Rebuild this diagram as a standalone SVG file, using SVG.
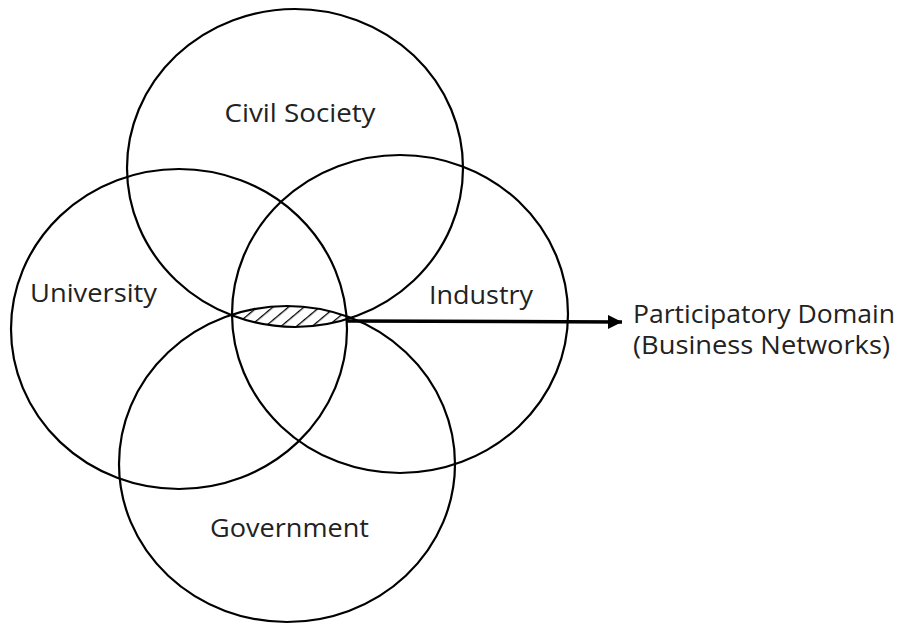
<svg xmlns="http://www.w3.org/2000/svg" width="907" height="624" viewBox="0 0 907 624">
  <style>
    .ring { fill: none; stroke: #000; stroke-width: 2.2; }
    .lbl { font-family: "Open Sans", "Liberation Sans", sans-serif; font-size: 25px; fill: #222; }
    .conn { stroke: #000; stroke-width: 3.5; fill: none; }
  </style>
  <defs>
    <pattern id="hatch" patternUnits="userSpaceOnUse" width="10" height="10" patternTransform="rotate(50)">
      <line x1="0" y1="0" x2="0" y2="10" stroke="#000" stroke-width="2.6"/>
    </pattern>
    <clipPath id="clipCivil">
      <ellipse cx="295" cy="168" rx="168" ry="159"/>
    </clipPath>
    <marker id="arrow" markerWidth="14" markerHeight="14" refX="14" refY="7" orient="auto" markerUnits="userSpaceOnUse">
      <path d="M0,0 L14,7 L0,14 Z" fill="#000"/>
    </marker>
  </defs>
  <rect width="907" height="624" fill="#fff"/>

  <g id="participatory-domain-hatch" clip-path="url(#clipCivil)">
    <ellipse cx="287" cy="464" rx="168" ry="158" fill="url(#hatch)" stroke="none"/>
  </g>

  <g id="civil-society">
    <ellipse class="ring" cx="295" cy="168" rx="168" ry="159"/>
    <text class="lbl" x="300" y="122" text-anchor="middle" textLength="151" lengthAdjust="spacingAndGlyphs">Civil Society</text>
  </g>
  <g id="university">
    <ellipse class="ring" cx="179" cy="329" rx="168" ry="160"/>
    <text class="lbl" x="30" y="302" textLength="127" lengthAdjust="spacingAndGlyphs">University</text>
  </g>
  <g id="industry">
    <ellipse class="ring" cx="400" cy="314" rx="168" ry="159"/>
    <text class="lbl" x="429" y="304" textLength="104" lengthAdjust="spacingAndGlyphs">Industry</text>
  </g>
  <g id="government">
    <ellipse class="ring" cx="287" cy="464" rx="168" ry="158"/>
    <text class="lbl" x="210" y="537" textLength="159" lengthAdjust="spacingAndGlyphs">Government</text>
  </g>

  <g id="connectors">
    <line class="conn" x1="347" y1="321" x2="622" y2="322" marker-end="url(#arrow)"/>
  </g>

  <g id="participatory-domain-label">
    <text class="lbl" x="633" y="323" textLength="262" lengthAdjust="spacingAndGlyphs">Participatory Domain</text>
    <text class="lbl" x="633" y="354" textLength="257" lengthAdjust="spacingAndGlyphs">(Business Networks)</text>
  </g>
</svg>
